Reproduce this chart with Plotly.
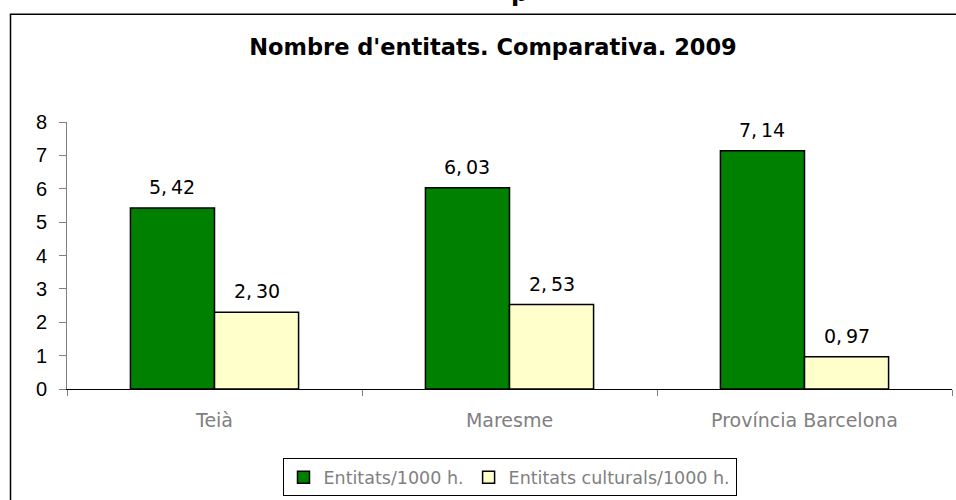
import plotly.graph_objects as go

# Chart data
categories = ["Teià", "Maresme", "Província Barcelona"]
entitats = [5.42, 6.03, 7.14]
entitats_culturals = [2.30, 2.53, 0.97]
series_names = ["Entitats/1000 h.", "Entitats culturals/1000 h."]
title_text = "Nombre d'entitats. Comparativa. 2009"
y_ticks = [0, 1, 2, 3, 4, 5, 6, 7, 8]

W, H = 956, 500
L, R, T, B = 67, 4, 122, 109
plot_w = W - L - R
plot_h = H - T - B
BARGAP = 0.43
bar_px = plot_w / len(categories) * (1 - BARGAP) / 2


def px_x(px):
    return (px - L) / plot_w


def px_y(py):
    return (H - B - py) / plot_h


fig = go.Figure()
fig.add_trace(go.Bar(
    x=categories, y=entitats, name=series_names[0],
    marker=dict(color="#008000", line=dict(color="#000000", width=1.5)),
))
fig.add_trace(go.Bar(
    x=categories, y=entitats_culturals, name=series_names[1],
    marker=dict(color="#FFFFCC", line=dict(color="#000000", width=1.5)),
))

# value labels above each bar, comma decimals
for values, side in ((entitats, -1), (entitats_culturals, 1)):
    for cat, v in zip(categories, values):
        fig.add_annotation(
            x=cat, y=v, xref="x", yref="y",
            text=f"{v:.2f}".replace(".", ",\u2009"),
            xshift=side * bar_px / 2, yshift=8,
            xanchor="center", yanchor="bottom", showarrow=False,
            font=dict(family="DejaVu Sans", size=19, color="#000000"),
        )

# outer frame around the chart
fig.add_shape(type="rect", xref="paper", yref="paper",
              x0=px_x(10.5), x1=px_x(958), y0=px_y(507), y1=px_y(13.5),
              line=dict(color="#000000", width=1.5), fillcolor="rgba(0,0,0,0)",
              layer="below")

fig.update_layout(
    width=W, height=H,
    margin=dict(l=L, r=R, t=T, b=B),
    paper_bgcolor="#ffffff", plot_bgcolor="#ffffff",
    separators=",.",
    barmode="group", bargap=BARGAP, bargroupgap=0,
    title=dict(text="<b>" + title_text + "</b>", x=493 / W,
               xanchor="center", y=1 - 47 / H, yanchor="middle",
               font=dict(family="DejaVu Sans", size=22.5, color="#000000")),
    showlegend=True,
    legend=dict(orientation="h", x=0.5, xanchor="center", y=px_y(461), yanchor="top",
                bordercolor="#000000", borderwidth=1, bgcolor="#ffffff",
                font=dict(family="DejaVu Sans", size=17.5, color="#808080"),
                itemwidth=30, tracegroupgap=0),
    xaxis=dict(showline=True, linecolor="#000000", linewidth=1,
               ticks="outside", tickson="boundaries", ticklen=6, tickcolor="#808080",
               ticklabelstandoff=14,
               tickfont=dict(family="DejaVu Sans", size=19, color="#808080"),
               showgrid=False, zeroline=False),
    yaxis=dict(range=[0, 8], tickvals=y_ticks, showline=True, linecolor="#808080",
               linewidth=1, ticks="outside", ticklen=7, tickcolor="#808080",
               ticklabelstandoff=8,
               tickfont=dict(family="Liberation Sans", size=20, color="#000000"),
               showgrid=False, zeroline=False),
)

# top-edge header fragment
fig.add_annotation(text="<b>p</b>", xref="paper", yref="paper",
                   x=px_x(519), y=px_y(-8), xanchor="center", yanchor="middle",
                   showarrow=False,
                   font=dict(family="DejaVu Sans", size=24, color="#000000"))

fig.write_html("out.html")
